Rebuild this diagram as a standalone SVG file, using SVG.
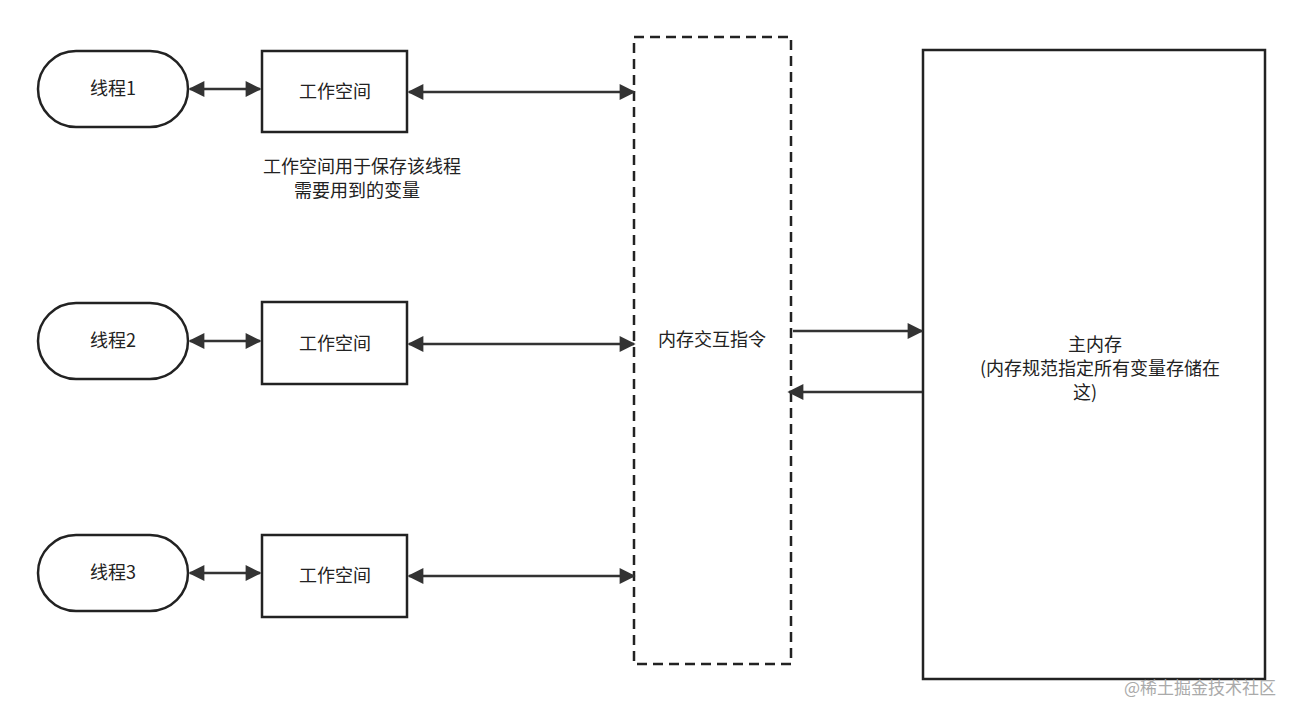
<svg xmlns="http://www.w3.org/2000/svg" width="1302" height="717" viewBox="0 0 1302 717">
<style>
.n{fill:#fff;stroke:#222;stroke-width:2.5}
.t{font-family:"Noto Sans CJK SC","Liberation Sans",sans-serif;font-size:18px;fill:#222;text-anchor:middle}
.c{stroke:#333;stroke-width:2.5;fill:none}
</style>
<defs>
<marker id="a" viewBox="0 0 10 10" refX="9" refY="5" markerWidth="7" markerHeight="7" orient="auto-start-reverse" markerUnits="userSpaceOnUse" >
<path d="M0,0 L10,5 L0,10 z" fill="#333"/>
</marker>
<marker id="b" viewBox="0 0 10 10" refX="9" refY="5" markerWidth="18" markerHeight="16" orient="auto-start-reverse" markerUnits="userSpaceOnUse">
<path d="M0,0 L10,5 L0,10 z" fill="#333"/>
</marker>
</defs>
<rect width="1302" height="717" fill="#fff"/>
<g id="t1"><rect class="n" x="38" y="51" width="150" height="76" rx="38"/><text class="t" x="113" y="95">线程1</text></g>
<g id="t2"><rect class="n" x="38" y="303" width="150" height="76" rx="38"/><text class="t" x="113" y="347">线程2</text></g>
<g id="t3"><rect class="n" x="38" y="535" width="150" height="76" rx="38"/><text class="t" x="113" y="579">线程3</text></g>
<g id="w1"><rect class="n" x="262" y="51" width="145" height="81"/><text class="t" x="335" y="98">工作空间</text></g>
<g id="w2"><rect class="n" x="262" y="302" width="145" height="82"/><text class="t" x="335" y="350">工作空间</text></g>
<g id="w3"><rect class="n" x="262" y="535" width="145" height="82"/><text class="t" x="335" y="582">工作空间</text></g>
<g id="note"><text class="t" x="362" y="173">工作空间用于保存该线程</text><text class="t" x="357" y="197">需要用到的变量</text></g>
<g id="ins"><rect x="634" y="37" width="157" height="627" fill="#fff" stroke="#222" stroke-width="2.5" stroke-dasharray="10,6"/><text class="t" x="712" y="346">内存交互指令</text></g>
<g id="mem"><rect class="n" x="923" y="50" width="342" height="629"/><text class="t" x="1095" y="351">主内存</text><text class="t" x="1100" y="375">(内存规范指定所有变量存储在</text><text class="t" x="1085" y="399">这)</text></g>
<g id="connectors">
<line class="c" x1="190" y1="89" x2="260" y2="89" marker-start="url(#b)" marker-end="url(#b)"/>
<line class="c" x1="190" y1="341" x2="260" y2="341" marker-start="url(#b)" marker-end="url(#b)"/>
<line class="c" x1="190" y1="573" x2="260" y2="573" marker-start="url(#b)" marker-end="url(#b)"/>
<line class="c" x1="409" y1="92" x2="634" y2="92" marker-start="url(#b)" marker-end="url(#b)"/>
<line class="c" x1="409" y1="344" x2="634" y2="344" marker-start="url(#b)" marker-end="url(#b)"/>
<line class="c" x1="409" y1="576" x2="634" y2="576" marker-start="url(#b)" marker-end="url(#b)"/>
<line class="c" x1="793" y1="331" x2="922" y2="331" marker-end="url(#b)"/>
<line class="c" x1="922" y1="392" x2="789" y2="392" marker-end="url(#b)"/>
</g>
<text x="1200" y="694" style="font-family:'Noto Sans CJK SC',sans-serif;font-size:17px;fill:#aaa;text-anchor:middle">@稀土掘金技术社区</text>
</svg>
